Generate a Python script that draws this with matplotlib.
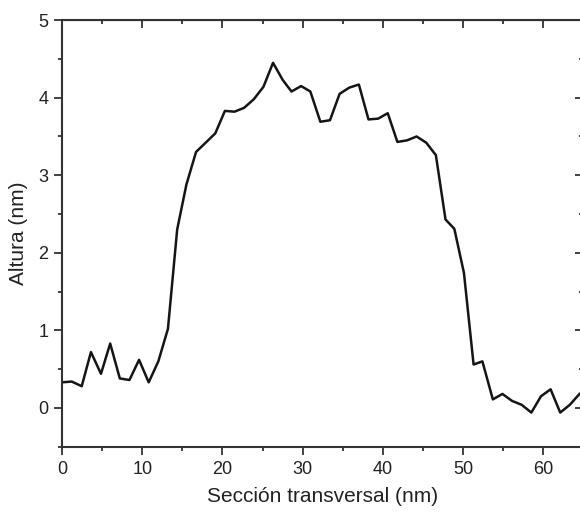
import matplotlib
matplotlib.use("Agg")
import matplotlib.pyplot as plt
from matplotlib.ticker import MultipleLocator

plt.rcParams['font.family'] = ['Liberation Sans', 'DejaVu Sans']

# perfil de altura
seccion = [0, 1.2, 2.45, 3.6, 4.85, 6.0, 7.2, 8.4, 9.6, 10.8,
           12.0, 13.2, 14.35, 15.5, 16.7, 17.9, 19.1, 20.3, 21.5, 22.7,
           23.9, 25.1, 26.3, 27.5, 28.6, 29.8, 30.95, 32.2, 33.4, 34.6,
           35.8, 37.0, 38.2, 39.4, 40.6, 41.8, 43.0, 44.2, 45.4, 46.6,
           47.8, 48.9, 50.1, 51.3, 52.4, 53.7, 54.9, 56.1, 57.3, 58.5,
           59.7, 60.9, 62.1, 63.3, 64.5]
altura = [0.33, 0.34, 0.28, 0.72, 0.44, 0.83, 0.38, 0.36, 0.62, 0.33,
          0.60, 1.02, 2.30, 2.88, 3.30, 3.42, 3.54, 3.83, 3.82, 3.87,
          3.98, 4.14, 4.45, 4.23, 4.08, 4.15, 4.08, 3.69, 3.71, 4.05,
          4.13, 4.17, 3.72, 3.73, 3.80, 3.43, 3.45, 3.50, 3.42, 3.26,
          2.43, 2.31, 1.74, 0.56, 0.60, 0.11, 0.18, 0.09, 0.04, -0.06,
          0.15, 0.24, -0.06, 0.04, 0.18]

xticks = [0, 10, 20, 30, 40, 50, 60]
yticks = [0, 1, 2, 3, 4, 5]

fig = plt.figure(figsize=(5.8, 5.17), dpi=100)
ax = fig.add_axes([0.107, 0.136, 0.899, 0.825])

ax.plot(seccion, altura, color='#151515', lw=1.8, solid_joinstyle='round')

ax.set_xlim(0, 65)
ax.set_ylim(-0.5, 5)
ax.set_xticks(xticks)
ax.set_yticks(yticks)
ax.xaxis.set_minor_locator(MultipleLocator(5))
ax.yaxis.set_minor_locator(MultipleLocator(0.5))

for s in ax.spines.values():
    s.set_color('#333333')
    s.set_linewidth(1.5)

ax.tick_params(which='both', direction='out', color='#333333', width=1.3,
               labelsize=13, labelcolor='#222222')
ax.tick_params(which='major', length=6, pad=4)
ax.tick_params(which='minor', length=3)

# ejes superior y derecho con marcas hacia dentro, sin etiquetas
top = ax.secondary_xaxis('top')
top.set_xticks(xticks)
top.xaxis.set_minor_locator(MultipleLocator(5))
top.tick_params(which='both', direction='in', labeltop=False, color='#333333', width=1.3)
top.tick_params(which='major', length=6)
top.tick_params(which='minor', length=3)
right = ax.secondary_yaxis('right')
right.set_yticks(yticks)
right.yaxis.set_minor_locator(MultipleLocator(0.5))
right.tick_params(which='both', direction='in', labelright=False, color='#333333', width=1.3)
right.tick_params(which='major', length=6)
right.tick_params(which='minor', length=3)

ax.set_xlabel('Sección transversal (nm)', fontsize=15, color='#222222', labelpad=7)
ax.set_ylabel('Altura (nm)', fontsize=15, color='#222222', labelpad=7)

fig.savefig('out.png', dpi=100)
